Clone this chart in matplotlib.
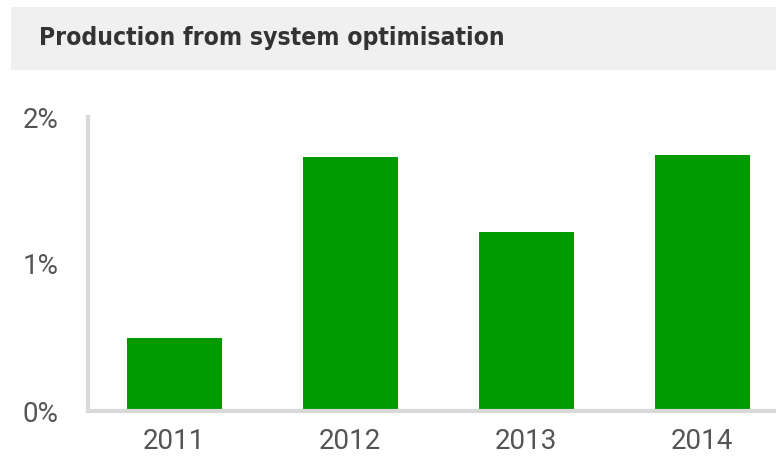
import matplotlib.pyplot as plt
from matplotlib import font_manager
from matplotlib.patches import Rectangle
from matplotlib.ticker import FuncFormatter

# dados
anos = ["2011", "2012", "2013", "2014"]
valores = [0.50, 1.73, 1.22, 1.74]
yticks = [0, 1, 2]

# procura uma fonte estreita para o título
fonte_titulo = None
for f in font_manager.fontManager.ttflist:
    nome = f.name.lower()
    if ("narrow" in nome or "condensed" in nome or f.stretch == "condensed") and f.weight in ("bold", 700):
        fonte_titulo = f.fname
        break

fig = plt.figure(figsize=(7.76, 4.62), dpi=100)

# caixa cinza do título
fig.patches.append(Rectangle((11 / 776, 1 - 70 / 462), 1 - 11 / 776, 63 / 462,
                             transform=fig.transFigure, facecolor="#f0f0f0",
                             edgecolor="none", zorder=0))
titulo = "Production from system optimisation"
if fonte_titulo:
    fp = font_manager.FontProperties(fname=fonte_titulo, size=21)
else:
    fp = font_manager.FontProperties(family="DejaVu Sans", weight="bold", size=21)
t = fig.text(0.35, 1 - 38 / 462, titulo, fontproperties=fp,
             color="#333333", ha="center", va="center")
# ajusta o tamanho para uma largura próxima do original
r = fig.canvas.get_renderer()
w = t.get_window_extent(r).width
t.set_fontsize(21 * 465 / w)

ax = fig.add_axes([88 / 776, 1 - 411 / 462, 1 - 88 / 776, 294 / 462])
x = range(len(anos))
ax.bar(x, valores, width=0.54, color="#009900", zorder=2)

ax.set_xlim(-0.491, 3.42)
ax.set_ylim(0, 2)
ax.set_xticks(list(x))
ax.set_xticklabels(anos)
ax.set_yticks(yticks)
ax.yaxis.set_major_formatter(FuncFormatter(lambda v, p: f"{v:.0f}%"))

for s in ["top", "right"]:
    ax.spines[s].set_visible(False)
for s in ["left", "bottom"]:
    ax.spines[s].set_color("#d9d9d9")
    ax.spines[s].set_linewidth(3)

ax.tick_params(axis="both", length=0, labelsize=20, labelcolor="#555555")
ax.tick_params(axis="y", pad=21)
ax.tick_params(axis="x", pad=12)
for lab in ax.get_xticklabels() + ax.get_yticklabels():
    lab.set_family(["Roboto", "DejaVu Sans"])

fig.savefig("out.png", dpi=100)
